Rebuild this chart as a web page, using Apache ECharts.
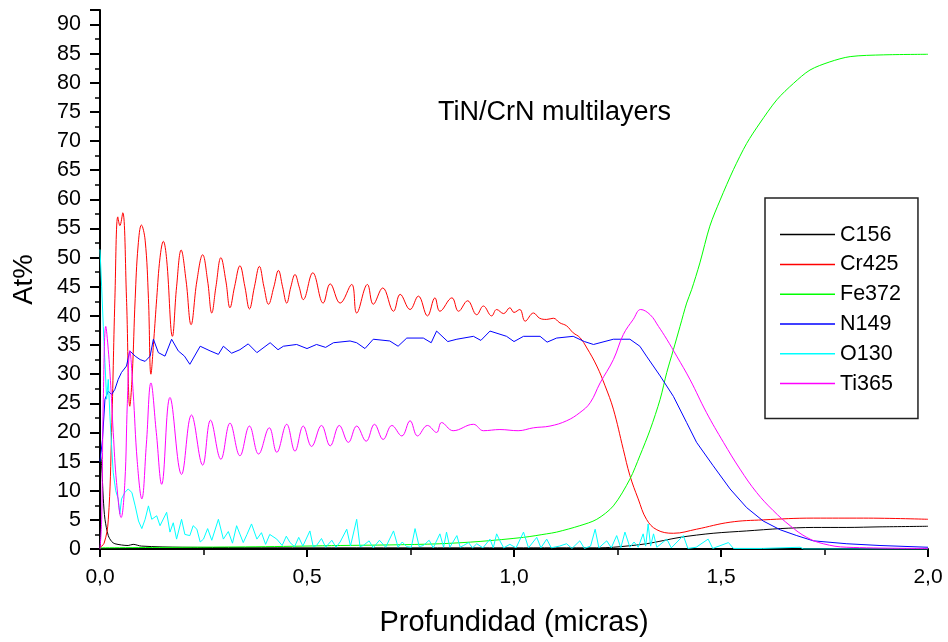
<!DOCTYPE html>
<html>
<head>
<meta charset="utf-8">
<script src="https://cdn.jsdelivr.net/npm/echarts@6.0.0/dist/echarts.min.js"></script>
<style>
  html, body { margin: 0; padding: 0; background: #fff; }
  #chart { width: 948px; height: 642px; }
</style>
</head>
<body>
<div id="chart"></div>
<script>
var seriesNames = ['C156', 'Cr425', 'Fe372', 'N149', 'O130', 'Ti365'];
var seriesColors = ['#000000', '#ff0000', '#00ff00', '#0000ff', '#00ffff', '#ff00ff'];

var c156 = [
  [0, 17], [0.004, 14.3], [0.008, 8.6], [0.012, 5.1], [0.02, 2.3], [0.028, 1.3], [0.036, 0.9],
  [0.068, 0.6], [0.08, 0.8], [0.1, 0.5], [0.2, 0.3], [0.5, 0.2], [1.0, 0.2], [1.2, 0.2],
  [1.24, 0.3], [1.32, 0.9], [1.401, 2], [1.481, 2.7], [1.562, 3.1], [1.643, 3.5], [1.723, 3.7],
  [1.804, 3.7], [1.884, 3.8], [2.0, 3.9]
];

var cr425 = [
  [0, 0.3], [0.01, 1], [0.02, 5], [0.028, 20], [0.036, 43], [0.043, 57], [0.048, 55.5], [0.055, 57.7],
  [0.064, 43], [0.072, 24.5], [0.078, 30], [0.085, 43], [0.092, 52], [0.1, 55.6], [0.109, 53],
  [0.117, 43], [0.123, 30], [0.13, 36], [0.137, 43], [0.145, 50], [0.153, 52.8], [0.161, 49.7],
  [0.175, 36.5], [0.185, 45], [0.196, 51.3], [0.208, 46], [0.22, 38.5], [0.234, 46], [0.248, 50.5],
  [0.26, 46], [0.27, 40.5], [0.28, 45], [0.292, 50], [0.304, 46], [0.314, 41.4], [0.325, 45],
  [0.338, 48.6], [0.35, 45], [0.361, 41.2], [0.373, 45], [0.385, 48.5], [0.396, 45], [0.407, 42],
  [0.42, 45], [0.431, 47.8], [0.441, 45], [0.451, 42.2], [0.461, 45], [0.471, 47.1], [0.481, 45],
  [0.491, 42.8], [0.514, 47.4], [0.539, 42.2], [0.556, 45.5], [0.58, 42.2], [0.608, 45.4],
  [0.62, 40.5], [0.646, 45.4], [0.66, 42], [0.683, 44.8], [0.709, 40.8], [0.725, 43.7],
  [0.749, 41.1], [0.769, 43.4], [0.791, 40], [0.809, 43.1], [0.821, 40.8], [0.85, 43.1],
  [0.866, 40.8], [0.888, 42.6], [0.91, 40.2], [0.926, 41.7], [0.946, 40], [0.958, 41.1],
  [0.975, 40.4], [0.99, 41.4], [1.0, 40.6], [1.014, 41.1], [1.027, 39.1], [1.047, 40.5],
  [1.062, 39.6], [1.079, 39.4], [1.095, 39.6], [1.111, 38.8], [1.127, 38.3], [1.143, 37.1],
  [1.159, 36.3], [1.176, 34.5], [1.2, 31.4], [1.22, 28], [1.24, 24], [1.264, 17.1],
  [1.28, 12.6], [1.3, 8.6], [1.32, 5.1], [1.345, 3.3], [1.385, 2.7], [1.441, 3.4], [1.522, 4.6],
  [1.602, 5], [1.723, 5.3], [1.844, 5.3], [2.0, 5.1]
];

var fe372 = [
  [0, 0.2], [0.2, 0.3], [0.4, 0.4], [0.58, 0.6], [0.7, 0.7], [0.821, 0.9], [0.918, 1.3],
  [1.023, 2], [1.079, 2.6], [1.103, 2.9], [1.159, 4], [1.2, 5.1], [1.24, 7.4], [1.28, 12],
  [1.304, 16], [1.329, 20.5], [1.353, 25.7], [1.369, 30.3], [1.385, 34.2], [1.401, 38.2],
  [1.417, 42.2], [1.429, 44.5], [1.449, 49.1], [1.473, 55.4], [1.498, 59.9], [1.53, 65.1],
  [1.562, 69.6], [1.594, 73.1], [1.635, 77.1], [1.675, 79.9], [1.715, 82.2], [1.763, 83.6],
  [1.812, 84.5], [1.892, 84.8], [2.0, 84.9]
];

var n149 = [
  [0, 15], [0.006, 18.8], [0.012, 25.7], [0.02, 27.1], [0.028, 26.5], [0.036, 27.4], [0.044, 29.1],
  [0.052, 30.3], [0.064, 31.4], [0.072, 34], [0.085, 33.1], [0.097, 32.5], [0.109, 32.2],
  [0.121, 33.1], [0.129, 36], [0.141, 33.7], [0.157, 33.1], [0.173, 36], [0.189, 34], [0.204, 33.1],
  [0.217, 31.7], [0.242, 34.8], [0.266, 34], [0.286, 33.4], [0.298, 34.8], [0.318, 33.6],
  [0.338, 34.2], [0.358, 35.2], [0.379, 33.7], [0.411, 35.4], [0.43, 34.2], [0.443, 34.8],
  [0.475, 35.1], [0.5, 34.4], [0.523, 35.1], [0.545, 34.6], [0.564, 35.4], [0.604, 35.7],
  [0.62, 35.4], [0.64, 34.4], [0.66, 36], [0.7, 35.7], [0.72, 34.8], [0.741, 36.2], [0.781, 36.2],
  [0.8, 35.4], [0.813, 37.4], [0.84, 35.6], [0.862, 36], [0.902, 36.5], [0.92, 35.8],
  [0.942, 37.4], [0.982, 36.5], [1.0, 35.6], [1.023, 36.5], [1.063, 36.5], [1.08, 35.5],
  [1.103, 36.2], [1.143, 36.5], [1.17, 35.6], [1.192, 35.1], [1.24, 36], [1.28, 36], [1.304, 34.8],
  [1.32, 33.1], [1.353, 29.7], [1.385, 26.2], [1.417, 21.7], [1.441, 18.3], [1.481, 14.3],
  [1.522, 10.3], [1.562, 7.1], [1.602, 4.8], [1.643, 3.3], [1.683, 2.3], [1.723, 1.4],
  [1.804, 0.9], [1.884, 0.6], [2.0, 0.3]
];

var o130 = [
  [0, 51.4], [0.004, 45], [0.008, 38.2], [0.012, 32], [0.016, 25.7], [0.02, 29.1], [0.024, 22.8],
  [0.028, 17.7], [0.032, 13.1], [0.038, 10], [0.044, 8.6], [0.048, 6], [0.052, 8.6], [0.06, 9.7],
  [0.068, 10.3], [0.077, 9.7], [0.085, 7.4], [0.093, 4.8], [0.101, 3.5], [0.109, 5.1], [0.117, 7.4],
  [0.121, 7.4], [0.125, 5.1], [0.137, 5.7], [0.145, 4], [0.161, 6.3], [0.169, 2.9], [0.177, 4.5],
  [0.185, 1.7], [0.197, 5.1], [0.205, 2.5], [0.217, 2.3], [0.225, 4], [0.234, 3.4], [0.242, 1.2],
  [0.25, 1.7], [0.26, 3.5], [0.27, 1.5], [0.286, 5.1], [0.298, 1.7], [0.31, 3], [0.32, 1],
  [0.33, 4], [0.346, 1.1], [0.355, 2.5], [0.366, 4.3], [0.379, 1.7], [0.39, 2.8], [0.4, 0.8],
  [0.41, 2.5], [0.427, 1.7], [0.44, 0.6], [0.45, 2.2], [0.459, 1.1], [0.47, 0.4], [0.48, 2],
  [0.49, 0.5], [0.507, 3.1], [0.515, 0.4], [0.523, 0.6], [0.535, 1.8], [0.545, 0.3], [0.56, 1.5],
  [0.57, 0.3], [0.58, 1.2], [0.596, 3.4], [0.605, 0.5], [0.62, 5.1], [0.628, 0.4], [0.636, 0.6],
  [0.65, 1.4], [0.66, 0.2], [0.675, 1.5], [0.69, 0.3], [0.709, 3.1], [0.72, 0.3], [0.73, 1.2],
  [0.741, 0.4], [0.752, 0.3], [0.761, 3.5], [0.771, 0.4], [0.781, 0.6], [0.795, 1.5], [0.805, 0.2],
  [0.821, 2.6], [0.83, 0.3], [0.837, 2.9], [0.845, 0.3], [0.862, 2.3], [0.87, 0.3], [0.878, 0.6],
  [0.89, 1.1], [0.9, 0.2], [0.91, 0.9], [0.925, 0.2], [0.942, 1.7], [0.95, 0.2], [0.958, 2.6],
  [0.966, 1.4], [0.975, 0.2], [0.99, 0.8], [1.005, 0.2], [1.023, 2.9], [1.035, 0.2], [1.055, 2],
  [1.065, 0.2], [1.079, 1.7], [1.09, 0.2], [1.11, 0.5], [1.127, 0.9], [1.14, 0.1], [1.159, 1.4],
  [1.17, 0.1], [1.185, 0.5], [1.196, 3.4], [1.205, 0.2], [1.224, 1.4], [1.235, 0.2], [1.248, 2.3],
  [1.258, 0.2], [1.268, 2.9], [1.28, 0.3], [1.29, 1.2], [1.3, 0.3], [1.312, 2.6], [1.318, 0.5],
  [1.324, 4.3], [1.33, 0.5], [1.337, 2.6], [1.345, 0.3], [1.369, 1.7], [1.38, 0.2], [1.409, 2.3],
  [1.42, 0.1], [1.44, 0.3], [1.469, 1.7], [1.48, 0.1], [1.518, 1.1], [1.53, 0.1], [1.6, 0.1],
  [1.691, 0.3], [1.7, 0], [2.0, 0]
];

var ti365 = [
  [0, 0], [0.004, 5], [0.008, 25.7], [0.014, 38.2], [0.02, 34.2], [0.026, 28], [0.032, 20],
  [0.04, 11.4], [0.051, 5.4], [0.06, 11.4], [0.066, 25], [0.072, 34], [0.08, 27], [0.09, 15],
  [0.101, 8.6], [0.112, 18], [0.123, 28.5], [0.136, 20], [0.149, 11.1], [0.169, 26], [0.197, 12.8],
  [0.221, 23], [0.248, 14.4], [0.267, 22.1], [0.292, 15.4], [0.314, 21.6], [0.338, 16],
  [0.361, 21.1], [0.383, 16.3], [0.409, 20.8], [0.427, 16.6], [0.451, 21.4], [0.471, 16.8],
  [0.491, 21.1], [0.511, 17.6], [0.535, 21.2], [0.556, 17.7], [0.578, 21.2], [0.6, 18.3],
  [0.62, 21.1], [0.643, 18.5], [0.663, 21.4], [0.684, 18.8], [0.705, 21.2], [0.729, 19.4],
  [0.749, 22], [0.767, 19.4], [0.791, 21.2], [0.813, 20], [0.825, 21.7], [0.853, 20.3],
  [0.902, 21.4], [0.926, 20.3], [0.966, 20.5], [1.01, 20.3], [1.047, 20.8], [1.087, 21.1],
  [1.127, 22], [1.159, 23.4], [1.184, 25.1], [1.208, 28.5], [1.24, 32.5], [1.264, 36.8],
  [1.288, 39.4], [1.306, 41.1], [1.329, 40.2], [1.349, 38.2], [1.369, 36], [1.393, 33.1],
  [1.425, 29.1], [1.465, 23.4], [1.506, 18.3], [1.546, 13.7], [1.586, 9.7], [1.626, 6.6],
  [1.667, 4], [1.707, 2], [1.747, 0.9], [1.804, 0.3], [2.0, 0.1]
];

var seriesData = [c156, cr425, fe372, n149, o130, ti365];
var seriesSmooth = [0.3, 0.4, 0.3, false, false, 0.4];

var font = 'Liberation Sans, Arial, sans-serif';

var myChart = echarts.init(document.getElementById('chart'), null, { renderer: 'canvas' });

var series = [];
for (var i = 0; i < seriesNames.length; i++) {
  series.push({
    name: seriesNames[i],
    type: 'line',
    data: seriesData[i],
    showSymbol: false,
    symbol: 'none',
    smooth: seriesSmooth[i],
    lineStyle: { color: seriesColors[i], width: 1 },
    itemStyle: { color: seriesColors[i] }
  });
}

var option = {
  animation: false,
  backgroundColor: '#ffffff',
  title: {
    text: 'TiN/CrN multilayers',
    left: 438,
    top: 99,
    padding: 0,
    textStyle: { fontFamily: font, fontSize: 27, fontWeight: 'normal', color: '#000' }
  },
  legend: {
    orient: 'vertical',
    left: 765,
    top: 198,
    padding: [25.6, 17, 24, 15],
    itemWidth: 55,
    itemHeight: 1.5,
    itemGap: 7.8,
    icon: 'rect',
    borderColor: '#222',
    borderWidth: 1.5,
    textStyle: { fontFamily: font, fontSize: 21.5, color: '#000', lineHeight: 22 },
    data: seriesNames
  },
  grid: { left: 100, right: 20, top: 10, bottom: 92 },
  xAxis: {
    type: 'value',
    min: 0,
    max: 2,
    interval: 0.5,
    name: 'Profundidad (micras)',
    nameLocation: 'middle',
    nameGap: 59,
    nameTextStyle: { fontFamily: font, fontSize: 29, color: '#000' },
    axisLine: { lineStyle: { color: '#000', width: 2 } },
    axisTick: { length: 8, lineStyle: { color: '#000', width: 2 } },
    minorTick: { show: true, splitNumber: 2, length: 6, lineStyle: { color: '#000', width: 1.5 } },
    splitLine: { show: false },
    axisLabel: {
      fontFamily: font, fontSize: 21, color: '#000', margin: 18,
      formatter: function (v) { return v.toFixed(1).replace('.', ','); }
    }
  },
  yAxis: {
    type: 'value',
    min: 0,
    max: 92.5,
    interval: 5,
    name: 'At%',
    nameLocation: 'middle',
    nameGap: 62,
    nameTextStyle: { fontFamily: font, fontSize: 27.5, color: '#000' },
    axisLine: { show: true, lineStyle: { color: '#000', width: 2 } },
    axisTick: { show: true, length: 10, lineStyle: { color: '#000', width: 2 } },
    minorTick: { show: true, splitNumber: 2, length: 5, lineStyle: { color: '#000', width: 1.5 } },
    splitLine: { show: false },
    axisLabel: {
      fontFamily: font, fontSize: 21.5, color: '#000', margin: 19,
      formatter: function (v) { return v % 5 === 0 ? String(v) : ''; }
    }
  },
  series: series
};

myChart.setOption(option);
</script>
</body>
</html>
